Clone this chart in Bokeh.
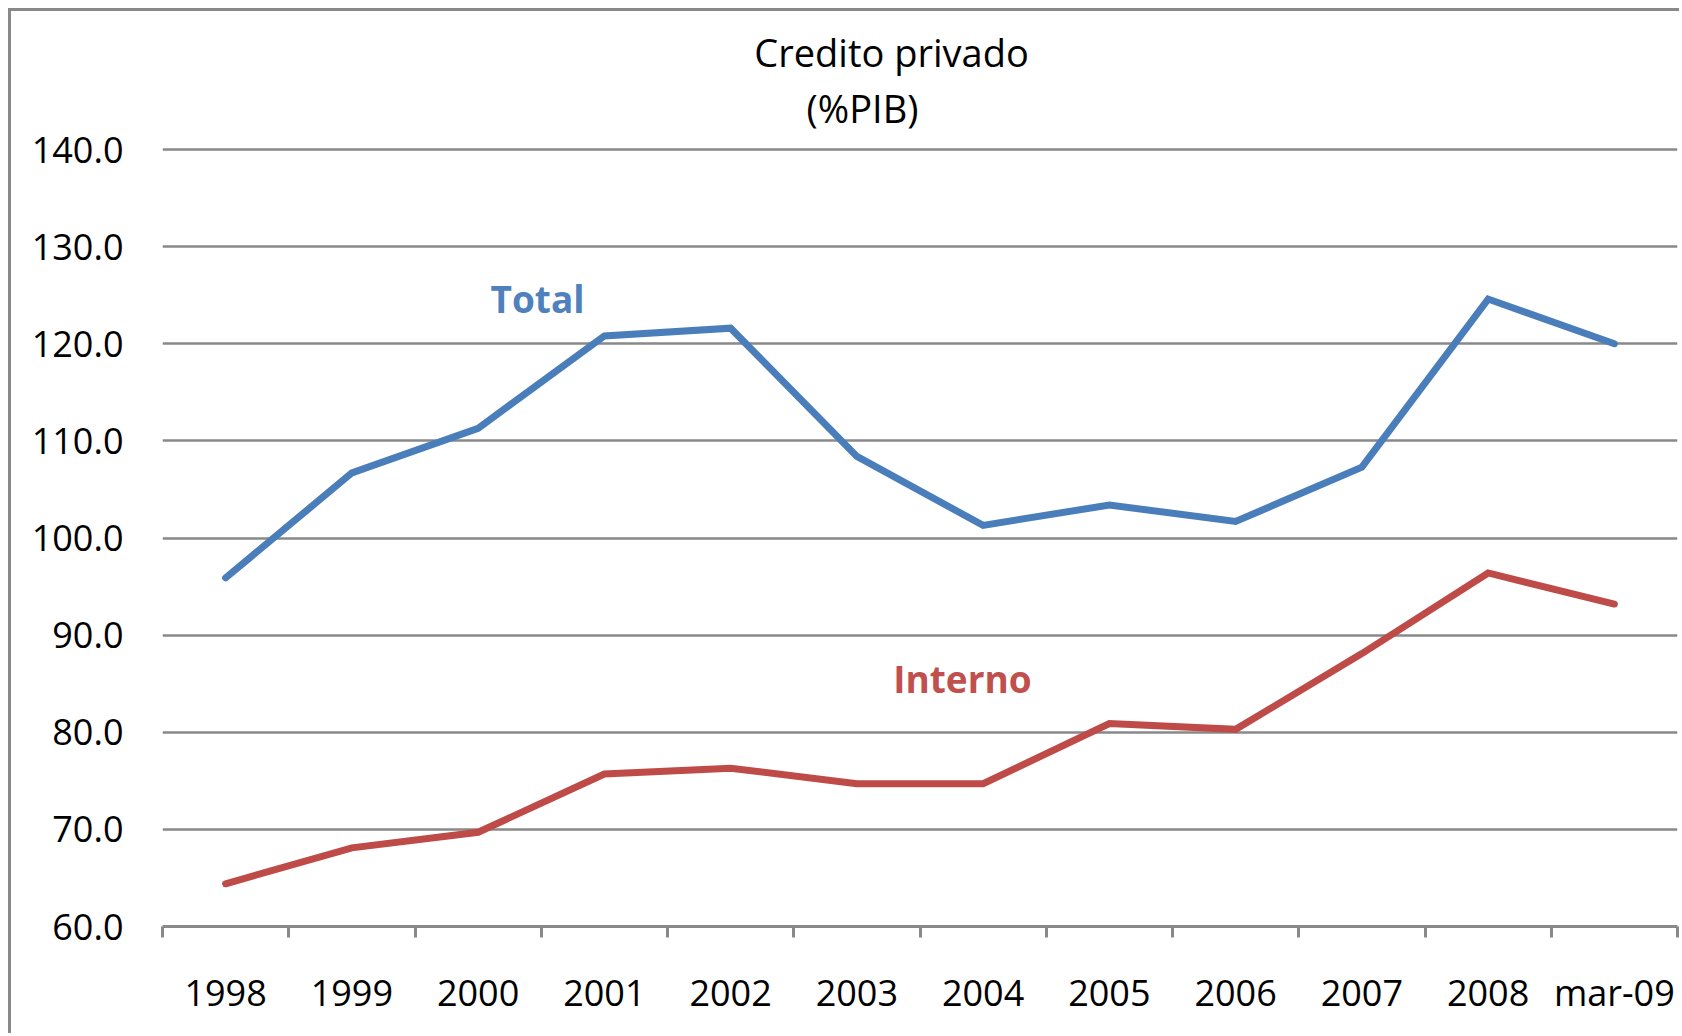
from bokeh.plotting import figure
from bokeh.layouts import column
from bokeh.models import FixedTicker, PrintfTickFormatter, Label, Range1d
from bokeh.embed import file_html
from bokeh.resources import INLINE

categories = ["1998", "1999", "2000", "2001", "2002", "2003", "2004",
              "2005", "2006", "2007", "2008", "mar-09"]
total = [95.9, 106.7, 111.3, 120.8, 121.6, 108.4, 101.3, 103.4, 101.7, 107.3, 124.6, 120.0]
interno = [64.4, 68.1, 69.7, 75.7, 76.3, 74.7, 74.7, 80.9, 80.3, 88.1, 96.4, 93.2]
y_ticks = [60, 70, 80, 90, 100, 110, 120, 130, 140]

FONT = "Open Sans"
GRID = "#898989"
BLUE = "#4A7EBB"
RED = "#BE4B48"

n = len(categories)
xs = [i + 0.5 for i in range(n)]

# frame: value axis 60-140 spans 777px; room above for the title inside the frame
px_per_unit = 777 / (y_ticks[-1] - y_ticks[0])
y_top = y_ticks[-1] + 138 / px_per_unit

p = figure(width=1671, height=1025, output_backend="svg", toolbar_location=None,
           x_range=Range1d(0, n), y_range=Range1d(y_ticks[0], y_top),
           min_border_left=151, min_border_top=0, min_border_bottom=110,
           min_border_right=5, background_fill_color="white",
           border_fill_color="white", outline_line_color=None)
p.styles = {"border-left": "3px solid " + GRID, "border-top": "3px solid " + GRID}

p.line(xs, total, line_color=BLUE, line_width=7, line_join="miter", line_cap="round")
p.line(xs, interno, line_color=RED, line_width=7, line_join="miter", line_cap="round")

# x axis: labels at category centres, ticks at category boundaries
p.xaxis.ticker = FixedTicker(ticks=xs, minor_ticks=list(range(n + 1)))
p.xaxis.major_label_overrides = {x: c for x, c in zip(xs, categories)}
p.xaxis.major_tick_out = 0
p.xaxis.major_tick_in = 0
p.xaxis.minor_tick_out = 11
p.xaxis.minor_tick_in = 0
p.xaxis.minor_tick_line_color = GRID
p.xaxis.minor_tick_line_width = 3
p.xaxis.axis_line_color = GRID
p.xaxis.axis_line_width = 3
p.xaxis.major_label_standoff = 30
p.xaxis.major_label_text_font = FONT
p.xaxis.major_label_text_font_size = "36px"
p.xaxis.major_label_text_color = "black"
p.xgrid.grid_line_color = None

p.yaxis.ticker = FixedTicker(ticks=y_ticks)
p.yaxis.formatter = PrintfTickFormatter(format="%.1f")
p.yaxis.axis_line_color = None
p.yaxis.major_tick_line_color = None
p.yaxis.minor_tick_line_color = None
p.yaxis.major_label_standoff = 33
p.yaxis.major_label_text_font = FONT
p.yaxis.major_label_text_font_size = "36px"
p.yaxis.major_label_text_color = "black"
p.ygrid.grid_line_color = GRID
p.ygrid.grid_line_width = 2.5

def add_label(text, x, y, color, size, style="normal"):
    p.add_layout(Label(x=x, y=y, x_units="screen", y_units="screen", text=text,
                       text_align="center", text_baseline="middle",
                       text_font=FONT, text_font_size=size, text_color=color,
                       text_font_style=style))

add_label("Credito privado", 729, 875, "black", "38px")
add_label("(%PIB)", 700, 819, "black", "38px")
add_label("Total", 375, 628, "#4F81BD", "37px", "bold")
add_label("Interno", 800, 248, "#C0504D", "37px", "bold")

root = column(p, styles={"padding-left": "8px", "padding-top": "8px"})

open("out.html", "w").write(file_html(root, INLINE))
